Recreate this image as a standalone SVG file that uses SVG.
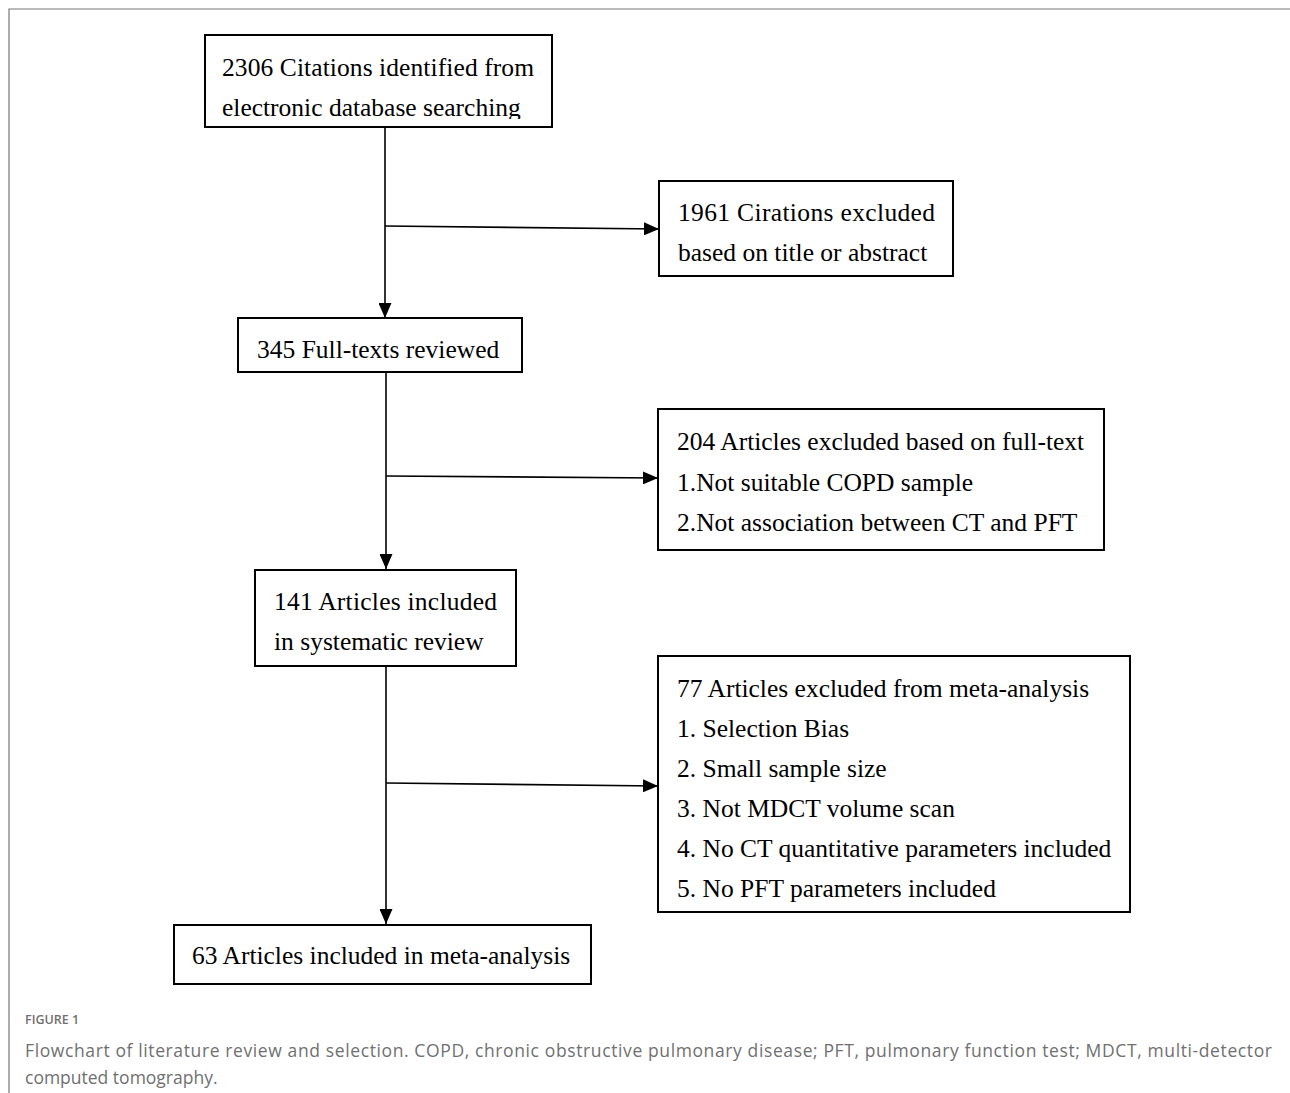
<svg xmlns="http://www.w3.org/2000/svg" width="1290" height="1093" viewBox="0 0 1290 1093">
<style>
.box{fill:#fff;stroke:#000;stroke-width:2}
.t{font-family:"Liberation Serif","Times New Roman",serif;font-size:25.5px;fill:#000}
.ln{stroke:#000;stroke-width:1.6;fill:none}
.cap{font-family:"Open Sans","Noto Sans",sans-serif;fill:#707070}
</style>
<defs>
<marker id="ah" viewBox="0 0 15 13" refX="15" refY="6.5" markerWidth="15" markerHeight="13" markerUnits="userSpaceOnUse" orient="auto">
<path d="M0,0 L15,6.5 L0,13 Z" fill="#000"/>
</marker>
<clipPath id="clip1"><rect x="205" y="35" width="347" height="84"/></clipPath>
</defs>
<rect width="1290" height="1093" fill="#fff"/>
<path d="M9,1093 L9,9 L1290,9" fill="none" stroke="#777" stroke-width="1.2"/>
<g id="connectors">
<line class="ln" x1="385" y1="127" x2="385" y2="318" marker-end="url(#ah)"/>
<line class="ln" x1="385" y1="226" x2="659" y2="229" marker-end="url(#ah)"/>
<line class="ln" x1="386" y1="372" x2="386" y2="569" marker-end="url(#ah)"/>
<line class="ln" x1="386" y1="476" x2="658" y2="478" marker-end="url(#ah)"/>
<line class="ln" x1="386" y1="666" x2="386" y2="924" marker-end="url(#ah)"/>
<line class="ln" x1="386" y1="783" x2="658" y2="786" marker-end="url(#ah)"/>
</g>
<g id="n1">
<rect class="box" x="205" y="35" width="347" height="92"/>
<g clip-path="url(#clip1)">
<text class="t" x="222" y="76" textLength="312" lengthAdjust="spacing">2306 Citations identified from</text>
<text class="t" x="222" y="116">electronic database searching</text>
</g>
</g>
<g id="n2">
<rect class="box" x="659" y="181" width="294" height="95"/>
<text class="t" x="678" y="221" textLength="257" lengthAdjust="spacing">1961 Cirations excluded</text>
<text class="t" x="678" y="261">based on title or abstract</text>
</g>
<g id="n3">
<rect class="box" x="238" y="318" width="284" height="54"/>
<text class="t" x="257" y="358">345 Full-texts reviewed</text>
</g>
<g id="n4">
<rect class="box" x="658" y="409" width="446" height="141"/>
<text class="t" x="677" y="450">204 Articles excluded based on full-text</text>
<text class="t" x="677" y="491">1.Not suitable COPD sample</text>
<text class="t" x="677" y="531">2.Not association between CT and PFT</text>
</g>
<g id="n5">
<rect class="box" x="255" y="570" width="261" height="96"/>
<text class="t" x="274" y="610" textLength="223" lengthAdjust="spacing">141 Articles included</text>
<text class="t" x="274" y="650">in systematic review</text>
</g>
<g id="n6">
<rect class="box" x="658" y="656" width="472" height="256"/>
<text class="t" x="677" y="697">77 Articles excluded from meta-analysis</text>
<text class="t" x="677" y="737">1. Selection Bias</text>
<text class="t" x="677" y="777">2. Small sample size</text>
<text class="t" x="677" y="817">3. Not MDCT volume scan</text>
<text class="t" x="677" y="857">4. No CT quantitative parameters included</text>
<text class="t" x="677" y="897">5. No PFT parameters included</text>
</g>
<g id="n7">
<rect class="box" x="174" y="925" width="417" height="59"/>
<text class="t" x="192" y="964">63 Articles included in meta-analysis</text>
</g>
<g id="caption">
<text class="cap" x="25" y="1024" font-size="12.5" font-weight="600" fill="#666">FIGURE 1</text>
<text class="cap" x="25" y="1057" font-size="17.5" textLength="1247" lengthAdjust="spacing">Flowchart of literature review and selection. COPD, chronic obstructive pulmonary disease; PFT, pulmonary function test; MDCT, multi-detector</text>
<text class="cap" x="25" y="1084" font-size="17.5">computed tomography.</text>
</g>
</svg>
